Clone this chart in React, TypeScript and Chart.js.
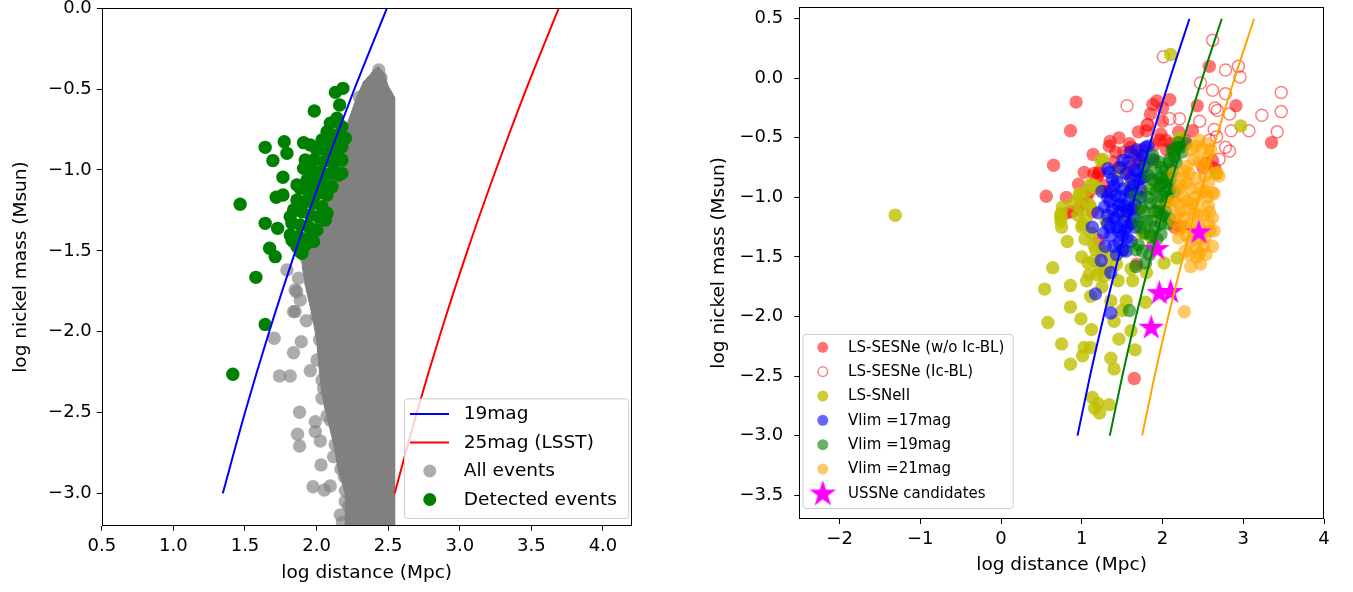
import React, { useEffect, useRef } from "react";
import { Chart, registerables } from "chart.js";

Chart.register(...registerables);

const FONT = '"DejaVu Sans", "Liberation Sans", sans-serif';
const TICK_SIZE = 18;
const TITLE_SIZE = 18.5;

type P = [number, number];

// ---------------- Left panel data ----------------
const L_X_TICKS = [0.5, 1.0, 1.5, 2.0, 2.5, 3.0, 3.5, 4.0];
const L_Y_TICKS = [0.0, -0.5, -1.0, -1.5, -2.0, -2.5, -3.0];

const L_LIMIT_19: P[] = [[1.345, -3.0], [1.5, -2.5], [1.669, -2.0], [1.853, -1.5], [2.052, -1.0], [2.264, -0.5], [2.491, 0.0]];
const L_LIMIT_25: P[] = [[2.545, -3.0], [2.7, -2.5], [2.869, -2.0], [3.053, -1.5], [3.252, -1.0], [3.464, -0.5], [3.691, 0.0]];

// outline of the saturated (fully overlapping) part of the "All events" cloud
const L_ALL_DENSE: P[] = [
  [2.38, -0.4], [2.43, -0.36], [2.47, -0.4], [2.5, -0.48], [2.545, -0.55], [2.545, -3.2], [2.2, -3.2],
  [2.2, -3.0], [2.15, -2.85], [2.12, -2.7], [2.08, -2.55], [2.04, -2.4], [2.02, -2.25], [2.0, -2.05],
  [1.97, -1.9], [1.93, -1.75], [1.9, -1.6], [1.9, -1.5], [2.0, -1.3], [2.08, -1.1], [2.15, -0.9],
  [2.22, -0.7], [2.28, -0.55], [2.33, -0.45],
];

const L_ALL_EVENTS: P[] = [
  [1.861, -1.753], [1.839, -1.876], [1.928, -1.932], [1.704, -2.041], [1.893, -2.062], [1.839, -2.13],
  [1.741, -2.274], [1.816, -2.274], [1.956, -2.241], [2.003, -2.175], [2.038, -2.412], [1.881, -2.498],
  [1.991, -2.557], [2.073, -2.521], [1.991, -2.618], [1.867, -2.634], [2.026, -2.676], [1.881, -2.707],
  [2.031, -2.824], [1.975, -2.959], [2.054, -2.979], [2.096, -2.954], [2.194, -2.898], [2.201, -2.983],
  [2.224, -3.082], [2.166, -3.133], [2.119, -2.773], [2.096, -2.46], [2.038, -2.299],
  [1.793, -1.618], [1.874, -1.67], [1.85, -1.742], [1.886, -1.804], [1.85, -1.876],
  [2.434, -0.382], [2.387, -0.454], [2.45, -0.43], [2.49, -0.547], [2.36, -0.5], [2.3, -0.55],
  [1.93, -1.55], [1.96, -1.7], [2.0, -1.9], [2.02, -2.05], [2.05, -2.35], [2.1, -2.55],
  [2.13, -2.7], [2.17, -2.85], [2.2, -3.05], [2.18, -3.18],
];

const L_DETECTED: P[] = [
  [2.184, -0.495], [2.131, -0.52], [2.161, -0.598], [1.984, -0.635], [1.641, -0.86], [1.774, -0.825],
  [1.793, -0.897], [1.695, -0.942], [1.765, -1.045], [1.466, -1.212], [1.718, -1.169], [1.765, -1.155],
  [1.641, -1.33], [1.728, -1.361], [1.672, -1.484], [1.711, -1.536], [1.576, -1.664], [1.909, -0.831],
  [1.863, -1.093], [2.177, -1.021], [2.073, -1.268], [1.816, -1.289], [1.828, -1.433], [1.886, -1.505],
  [1.641, -1.955], [1.415, -2.263],
  [2.142, -0.68], [2.096, -0.711], [2.177, -0.732], [2.073, -0.763], [2.142, -0.784], [2.201, -0.804],
  [2.038, -0.814], [2.108, -0.835], [2.177, -0.856], [1.956, -0.845], [2.003, -0.876], [2.073, -0.887],
  [2.142, -0.907], [1.921, -0.938], [1.979, -0.938], [2.049, -0.948], [2.119, -0.959], [2.177, -0.938],
  [1.909, -0.99], [1.968, -1.0], [2.026, -1.01], [2.096, -1.021], [2.154, -1.031], [1.933, -1.062],
  [1.991, -1.072], [2.049, -1.082], [2.108, -1.103], [1.886, -1.113], [1.944, -1.134], [2.014, -1.144],
  [2.073, -1.155], [1.863, -1.186], [1.921, -1.196], [1.979, -1.206], [2.038, -1.227], [1.839, -1.247],
  [1.898, -1.258], [1.956, -1.278], [2.014, -1.289], [2.061, -1.309], [1.828, -1.33], [1.886, -1.34],
  [1.944, -1.35], [2.003, -1.371], [1.816, -1.402], [1.874, -1.412], [1.933, -1.423], [1.863, -1.474],
  [1.921, -1.464], [1.979, -1.443], [1.839, -1.443], [1.898, -1.515],
];

// ---------------- Right panel data ----------------
const R_X_TICKS = [-2, -1, 0, 1, 2, 3, 4];
const R_Y_TICKS = [0.5, 0.0, -0.5, -1.0, -1.5, -2.0, -2.5, -3.0, -3.5];

const R_LIMIT_17: P[] = [[0.947, -3.0], [1.102, -2.5], [1.271, -2.0], [1.455, -1.5], [1.654, -1.0], [1.866, -0.5], [2.093, 0.0], [2.334, 0.5]];
const R_LIMIT_19: P[] = [[1.347, -3.0], [1.502, -2.5], [1.671, -2.0], [1.855, -1.5], [2.054, -1.0], [2.266, -0.5], [2.493, 0.0], [2.734, 0.5]];
const R_LIMIT_21: P[] = [[1.747, -3.0], [1.902, -2.5], [2.071, -2.0], [2.255, -1.5], [2.454, -1.0], [2.666, -0.5], [2.893, 0.0], [3.134, 0.5]];

const R_SESNE: P[] = [
  [0.93, -0.2], [0.86, -0.44], [0.65, -0.73], [0.56, -0.99], [0.81, -1.0], [0.96, -0.89], [1.14, -0.64],
  [0.87, -1.12], [0.82, -1.13], [1.35, -0.53], [1.46, -0.5], [1.59, -0.55], [1.66, -0.65], [1.61, -0.74],
  [1.8, -0.44], [1.88, -0.22], [1.93, -0.19], [2.09, -0.18], [1.98, -0.47], [1.82, -0.39], [2.43, -0.23],
  [2.58, 0.1], [2.91, -0.23], [3.35, -0.54], [2.28, -0.52], [2.62, -0.69], [1.65, -2.52], [1.21, -0.8],
  [1.03, -0.79], [1.13, -1.12], [1.21, -1.36], [2.22, -1.24], [2.54, -0.71], [2.65, -0.76], [1.19, -0.83],
  [2.0, -0.36], [1.75, -0.6], [1.52, -0.62], [1.4, -0.7], [2.1, -0.55], [2.2, -0.45], [1.9, -0.56],
  [1.06, -1.0], [1.3, -0.95], [1.68, -1.56], [2.05, -0.6], [2.37, -0.44], [1.0, -1.05], [2.04, -0.52],
  [1.15, -0.8], [1.22, -0.78], [1.46, -0.75], [1.57, -0.8], [1.61, -0.58], [1.34, -0.57], [1.96, -0.52],
  [1.27, -0.9], [1.1, -0.95], [0.95, -1.1], [1.7, -0.45], [1.85, -0.3], [2.0, -0.25], [2.15, -1.25],
  [2.5, -0.75], [1.42, -0.62], [1.72, -0.7],
];

const R_SESNE_ICBL: P[] = [
  [1.56, -0.23], [2.01, 0.18], [2.62, 0.32], [2.78, 0.07], [2.94, 0.1], [3.47, -0.12], [3.47, -0.28],
  [3.42, -0.45], [3.23, -0.31], [3.07, -0.44], [2.09, -0.34], [2.21, -0.34], [1.81, -0.39], [2.47, -0.04],
  [2.62, -0.1], [2.46, -0.36], [2.65, -0.25], [2.68, -0.27], [2.83, -0.3], [2.85, -0.44], [2.78, -0.58],
  [2.83, -0.61], [2.67, -0.49], [2.64, -0.43], [2.7, -0.68], [2.96, 0.01], [2.78, -0.13], [2.58, -0.52],
];

const R_SNII: P[] = [
  [-1.31, -1.15], [2.1, 0.2], [2.97, -0.4], [0.54, -1.77], [0.64, -1.59], [0.58, -2.05], [0.75, -2.23],
  [0.86, -2.4], [1.03, -2.26], [1.01, -2.33], [1.11, -2.26], [0.86, -1.74], [0.86, -1.92], [0.99, -2.02],
  [1.12, -2.11], [0.82, -1.37], [1.04, -1.35], [0.74, -1.14], [0.74, -1.2], [0.75, -1.25], [0.97, -0.99],
  [1.11, -1.08], [1.13, -0.9], [1.24, -0.69], [1.17, -1.44], [1.19, -1.65], [1.09, -1.65], [1.15, -1.53],
  [1.28, -1.66], [1.11, -1.83], [1.36, -1.87], [1.4, -2.04], [1.55, -1.87], [1.63, -1.7], [1.79, -1.88],
  [1.61, -2.12], [1.46, -2.19], [1.36, -2.35], [1.4, -2.44], [1.66, -2.28], [1.13, -2.68], [1.22, -2.81],
  [1.34, -2.74], [1.16, -2.77], [1.2, -2.73], [1.8, -1.63], [2.02, -1.55], [2.18, -1.51], [1.85, -1.33],
  [1.93, -1.12], [2.04, -1.04], [2.06, -0.82], [2.21, -0.5], [1.93, -0.9], [2.67, -0.8], [1.43, -1.56],
  [1.0, -1.25], [1.3, -1.2], [1.12, -1.3], [1.61, -1.6], [0.9, -1.05], [1.05, -0.95], [1.25, -1.75],
  [1.5, -1.95], [1.75, -1.3], [1.9, -0.7],
  [1.26, -0.68], [1.11, -0.89], [1.19, -0.92], [0.97, -0.97], [0.76, -1.08], [0.99, -1.08], [1.09, -1.06],
  [0.74, -1.16], [1.01, -1.23], [0.95, -1.15], [1.05, -1.18], [1.0, -1.5], [1.08, -1.55], [1.25, -1.45],
  [1.22, -1.6], [1.06, -1.7], [1.3, -1.6], [1.15, -1.4], [1.35, -1.5], [1.45, -1.7], [1.5, -1.45],
  [1.7, -1.1], [1.55, -1.15], [1.6, -0.9], [1.75, -0.95], [1.45, -0.8],
];

const R_VLIM17: P[] = [
  [1.32, -0.76], [1.51, -0.69], [1.82, -0.57], [1.72, -0.68], [1.79, -0.58], [1.34, -0.79], [1.44, -0.87],
  [1.4, -0.9], [1.61, -0.84], [1.32, -1.0], [1.35, -1.03], [1.45, -1.07], [1.48, -1.06], [1.56, -1.12],
  [1.66, -1.06], [1.61, -0.94], [1.69, -0.78], [1.32, -1.15], [1.61, -1.22], [1.45, -1.28], [1.53, -1.28],
  [1.56, -1.34], [1.4, -1.41], [1.51, -1.44], [1.13, -1.25], [1.32, -1.22], [1.29, -1.41], [1.24, -1.53],
  [1.36, -1.63], [1.17, -1.81], [1.36, -1.97], [1.74, -0.84], [1.72, -0.93], [1.59, -0.96], [1.66, -0.77],
  [1.77, -0.74], [1.88, -0.68], [1.61, -1.37], [1.35, -1.25], [1.51, -0.93], [1.43, -1.18], [1.66, -1.25],
  [1.53, -1.07], [1.46, -1.38], [1.4, -1.17], [1.65, -1.17], [1.57, -1.11], [1.73, -1.0], [1.78, -0.83],
  [1.48, -0.99], [1.38, -1.1],
  [1.25, -0.95], [1.28, -1.08], [1.38, -0.85], [1.42, -0.98], [1.47, -1.12], [1.52, -1.2], [1.58, -1.02],
  [1.62, -1.1], [1.55, -0.8], [1.47, -0.75], [1.58, -0.7], [1.64, -0.9], [1.7, -0.85], [1.5, -1.32],
  [1.43, -1.48], [1.55, -1.45], [1.36, -1.32], [1.27, -1.3], [1.6, -0.62], [1.68, -0.6], [1.75, -0.65],
  [1.36, -0.95], [1.44, -1.25], [1.57, -1.24], [1.2, -1.13],
];

const R_VLIM19: P[] = [
  [2.2, -0.54], [2.14, -0.61], [2.09, -0.68], [2.04, -0.77], [1.88, -0.65], [1.96, -0.84], [1.85, -0.93],
  [1.98, -0.99], [2.09, -0.93], [1.9, -1.12], [2.04, -1.12], [1.77, -1.12], [1.72, -1.25], [1.85, -1.31],
  [1.98, -1.22], [1.88, -1.41], [1.67, -1.44], [1.79, -1.55], [1.67, -1.58], [1.59, -1.95], [1.74, -1.09],
  [2.22, -0.58], [2.29, -0.55], [2.17, -0.71], [2.01, -0.88], [1.66, -0.99], [1.8, -0.74], [1.98, -1.31],
  [2.09, -1.18], [1.82, -1.0], [1.94, -1.05], [2.0, -1.15], [1.93, -0.8], [2.12, -0.78], [1.86, -1.2],
  [1.7, -1.4], [2.24, -0.62], [1.95, -0.7], [2.03, -0.95], [1.91, -1.25], [2.08, -0.71], [2.04, -0.85],
  [2.15, -0.66], [2.1, -0.85], [1.97, -0.9], [2.06, -1.0], [1.92, -0.95], [1.85, -1.05], [1.96, -1.12],
  [2.07, -1.22], [1.8, -1.2], [1.93, -1.35], [1.78, -1.3], [1.75, -1.45], [1.84, -1.48], [2.18, -0.58],
  [2.12, -0.6], [1.99, -0.75], [2.15, -0.95], [1.7, -1.2], [1.88, -0.85], [1.82, -0.82],
];

const R_VLIM21: P[] = [
  [2.41, -0.57], [2.49, -0.6], [2.57, -0.65], [2.38, -0.68], [2.3, -0.74], [2.54, -0.74], [2.67, -0.8],
  [2.25, -0.84], [2.41, -0.84], [2.57, -0.87], [2.2, -0.93], [2.35, -0.93], [2.49, -0.96], [2.62, -0.96],
  [2.14, -1.03], [2.3, -1.03], [2.43, -1.06], [2.57, -1.07], [2.22, -1.12], [2.38, -1.14], [2.51, -1.15],
  [2.62, -1.17], [2.14, -1.2], [2.28, -1.25], [2.46, -1.25], [2.59, -1.28], [2.2, -1.34], [2.35, -1.37],
  [2.51, -1.41], [2.62, -1.41], [2.28, -1.45], [2.46, -1.47], [2.35, -1.58], [2.47, -1.56], [2.27, -1.96],
  [2.09, -1.06], [2.14, -0.8], [2.45, -0.52], [2.36, -0.6], [2.52, -0.82], [2.32, -1.1], [2.44, -1.15],
  [2.25, -1.0], [2.47, -1.35], [2.33, -1.48], [2.56, -1.0], [2.4, -1.0], [2.18, -1.15], [2.3, -0.88],
  [2.7, -0.82], [2.64, -0.97], [2.64, -1.28], [2.27, -0.78], [2.54, -1.48],
  [2.2, -1.05], [2.27, -1.18], [2.34, -1.22], [2.4, -1.3], [2.53, -1.33], [2.42, -1.42], [2.3, -1.32],
  [2.2, -1.27], [2.45, -0.7], [2.5, -0.72], [2.33, -0.8], [2.46, -0.92], [2.58, -1.12], [2.53, -0.95],
  [2.36, -1.05], [2.22, -0.9], [2.6, -0.6], [2.55, -0.55], [2.42, -1.5], [2.57, -1.22],
];

const R_USSNE: P[] = [[1.93, -1.43], [2.45, -1.29], [1.96, -1.8], [2.1, -1.79], [1.86, -2.09]];

// ---------------- helpers ----------------
const pts = (a: P[]) => a.map(([x, y]) => ({ x, y }));
const fmt = (v: number, d: number) => (v < 0 ? "\u2212" : "") + Math.abs(v).toFixed(d);

function makeStar(R: number, color: string): HTMLCanvasElement {
  const size = Math.ceil(R * 2 + 2);
  const c = document.createElement("canvas");
  c.width = size;
  c.height = size;
  const g = c.getContext("2d")!;
  g.fillStyle = color;
  g.beginPath();
  const cx = size / 2;
  const cy = size / 2 + R * 0.05;
  for (let i = 0; i < 10; i++) {
    const r = i % 2 === 0 ? R : R * 0.382;
    const a = -Math.PI / 2 + (i * Math.PI) / 5;
    const px = cx + r * Math.cos(a);
    const py = cy + r * Math.sin(a);
    if (i === 0) g.moveTo(px, py);
    else g.lineTo(px, py);
  }
  g.closePath();
  g.fill();
  return c;
}

function makeScale(o: {
  min: number; max: number; ticks: number[]; dec: number; title: string;
  horizontal: boolean; thickness: number; tickPadding: number; titlePad: number;
}) {
  return {
    type: "linear",
    position: o.horizontal ? "bottom" : "left",
    min: o.min,
    max: o.max,
    afterBuildTicks: (s: any) => {
      s.ticks = o.ticks.map((v) => ({ value: v }));
    },
    afterFit: (s: any) => {
      if (o.horizontal) {
        s.height = o.thickness;
        s.paddingLeft = 0;
        s.paddingRight = 0;
      } else {
        s.width = o.thickness;
        s.paddingTop = 0;
        s.paddingBottom = 0;
      }
    },
    ticks: {
      callback: (v: number) => fmt(v, o.dec),
      font: { family: FONT, size: TICK_SIZE },
      color: "#000",
      padding: o.tickPadding,
      autoSkip: false,
      maxRotation: 0,
      minRotation: 0,
    },
    grid: { display: true, drawOnChartArea: false, drawTicks: true, tickLength: 5, color: "#000", lineWidth: 1 },
    border: { display: false },
    title: {
      display: true,
      text: o.title,
      color: "#000",
      font: { family: FONT, size: TITLE_SIZE },
      padding: o.horizontal ? { top: 0, bottom: o.titlePad } : { top: o.titlePad, bottom: 0 },
    },
  };
}

const framePlugin = {
  id: "frame",
  afterDatasetsDraw(chart: any) {
    const { ctx, chartArea: a } = chart;
    ctx.save();
    ctx.strokeStyle = "#000";
    ctx.lineWidth = 1;
    const l = Math.round(a.left) + 0.5;
    const t = Math.round(a.top) + 0.5;
    const r = Math.round(a.right) - 0.5;
    const b = Math.round(a.bottom) - 0.5;
    ctx.strokeRect(l, t, r - l, b - t);
    ctx.restore();
  },
};

const boxLegendPlugin = {
  id: "boxLegend",
  afterDraw(chart: any, _args: any, opts: any) {
    if (!opts || !opts.box) return;
    const { ctx } = chart;
    const items = chart.data.datasets
      .filter((d: any) => d.label)
      .sort((a: any, b: any) => (a.legendRank ?? 0) - (b.legendRank ?? 0));
    const [x, y, w, h] = opts.box;
    ctx.save();
    const rr = 3;
    ctx.beginPath();
    ctx.moveTo(x + rr, y);
    ctx.lineTo(x + w - rr, y);
    ctx.quadraticCurveTo(x + w, y, x + w, y + rr);
    ctx.lineTo(x + w, y + h - rr);
    ctx.quadraticCurveTo(x + w, y + h, x + w - rr, y + h);
    ctx.lineTo(x + rr, y + h);
    ctx.quadraticCurveTo(x, y + h, x, y + h - rr);
    ctx.lineTo(x, y + rr);
    ctx.quadraticCurveTo(x, y, x + rr, y);
    ctx.closePath();
    ctx.fillStyle = "rgba(255,255,255,0.8)";
    ctx.fill();
    ctx.strokeStyle = "#cccccc";
    ctx.lineWidth = 1;
    ctx.stroke();

    ctx.font = `${opts.fontSize}px ${FONT}`;
    ctx.textBaseline = "middle";
    ctx.textAlign = "left";
    items.forEach((d: any, i: number) => {
      const cy = opts.rowY0 + i * opts.rowGap;
      if (d.showLine) {
        ctx.beginPath();
        ctx.moveTo(opts.lineX0, cy);
        ctx.lineTo(opts.lineX1, cy);
        ctx.strokeStyle = d.borderColor;
        ctx.lineWidth = d.borderWidth;
        ctx.stroke();
      } else if (d.legendImage) {
        const im = d.legendImage as HTMLCanvasElement;
        ctx.drawImage(im, opts.markerX - im.width / 2, cy - im.height / 2);
      } else {
        ctx.beginPath();
        ctx.arc(opts.markerX, cy, d.legendStroke ? opts.markerR - 0.7 : opts.markerR, 0, Math.PI * 2);
        if (d.legendStroke) {
          ctx.strokeStyle = d.borderColor;
          ctx.lineWidth = d.borderWidth;
          ctx.stroke();
        } else {
          ctx.fillStyle = d.backgroundColor;
          ctx.fill();
        }
      }
      ctx.fillStyle = "#000";
      ctx.fillText(d.label, opts.textX, cy + 0.5);
    });
    ctx.restore();
  },
};

function lineSet(data: P[], color: string, extra: any = {}) {
  return {
    data: pts(data),
    showLine: true,
    borderColor: color,
    backgroundColor: color,
    borderWidth: 2,
    pointRadius: 0,
    fill: false,
    cubicInterpolationMode: "monotone",
    order: 0,
    ...extra,
  };
}

function dotSet(label: string, data: P[], color: string, r: number, order: number, rank: number, extra: any = {}) {
  return {
    label,
    data: pts(data),
    showLine: false,
    backgroundColor: color,
    borderColor: color,
    borderWidth: 0,
    pointRadius: r,
    pointHoverRadius: r,
    order,
    legendRank: rank,
    ...extra,
  };
}

function leftConfig(): any {
  return {
    type: "scatter",
    data: {
      datasets: [
        lineSet(L_LIMIT_19, "#0000ff", { label: "19mag", legendRank: 0 }),
        lineSet(L_LIMIT_25, "#ff0000", { label: "25mag (LSST)", legendRank: 1 }),
        dotSet("Detected events", L_DETECTED, "#008000", 6.7, 1, 3),
        dotSet("All events", L_ALL_EVENTS, "rgba(128,128,128,0.65)", 6.7, 2, 2),
        {
          data: pts(L_ALL_DENSE),
          showLine: true,
          fill: "shape",
          backgroundColor: "#808080",
          borderColor: "#808080",
          borderWidth: 1,
          pointRadius: 0,
          tension: 0,
          order: 3,
        },
      ],
    },
    options: {
      animation: false,
      responsive: false,
      events: [],
      layout: { padding: { left: 0, right: 38.4, top: 8.3, bottom: 0 }, autoPadding: false },
      plugins: {
        legend: { display: false },
        tooltip: { enabled: false },
        boxLegend: {
          box: [404.5, 398.9, 224.2, 119.6],
          rowY0: 414,
          rowGap: 28.5,
          lineX0: 410,
          lineX1: 449,
          markerX: 429.8,
          markerR: 6.5,
          textX: 463.8,
          fontSize: 18.5,
        },
      },
      scales: {
        x: makeScale({ min: 0.5, max: 4.2, ticks: L_X_TICKS, dec: 1, title: "log distance (Mpc)", horizontal: true, thickness: 66.3, tickPadding: 5, titlePad: 8.2 }),
        y: makeScale({ min: -3.2, max: 0, ticks: L_Y_TICKS, dec: 1, title: "log nickel mass (Msun)", horizontal: false, thickness: 101.8, tickPadding: 5, titlePad: 10 }),
      },
    },
    plugins: [framePlugin, boxLegendPlugin],
  };
}

function rightConfig(star: HTMLCanvasElement, starLegend: HTMLCanvasElement): any {
  return {
    type: "scatter",
    data: {
      datasets: [
        lineSet(R_LIMIT_17, "#0000ff"),
        lineSet(R_LIMIT_19, "#008000"),
        lineSet(R_LIMIT_21, "#ffa500"),
        dotSet("USSNe candidates", R_USSNE, "#ff00ff", 13.5, 1, 6, { pointStyle: star, legendImage: starLegend }),
        dotSet("Vlim =21mag", R_VLIM21, "rgba(255,165,0,0.6)", 6.7, 2, 5),
        dotSet("Vlim =19mag", R_VLIM19, "rgba(0,128,0,0.6)", 6.7, 3, 4),
        dotSet("Vlim =17mag", R_VLIM17, "rgba(0,0,255,0.6)", 6.7, 4, 3),
        dotSet("LS-SNeII", R_SNII, "rgba(191,191,0,0.8)", 6.7, 5, 2),
        dotSet("LS-SESNe (Ic-BL)", R_SESNE_ICBL, "rgba(0,0,0,0)", 6.0, 6, 1, {
          borderColor: "rgba(255,0,0,0.5)",
          borderWidth: 1.5,
          legendStroke: true,
        }),
        dotSet("LS-SESNe (w/o Ic-BL)", R_SESNE, "rgba(255,0,0,0.55)", 6.7, 7, 0),
      ],
    },
    options: {
      animation: false,
      responsive: false,
      events: [],
      layout: { padding: { left: 0, right: 29, top: 6.8, bottom: 0 }, autoPadding: false },
      plugins: {
        legend: { display: false },
        tooltip: { enabled: false },
        boxLegend: {
          box: [133, 334.5, 210.2, 174],
          rowY0: 347.3,
          rowGap: 24.35,
          lineX0: 136,
          lineX1: 170,
          markerX: 152.8,
          markerR: 5.5,
          textX: 178.1,
          fontSize: 15,
        },
      },
      scales: {
        x: makeScale({ min: -2.5, max: 4, ticks: R_X_TICKS, dec: 0, title: "log distance (Mpc)", horizontal: true, thickness: 73, tickPadding: 5, titlePad: 16.2 }),
        y: makeScale({ min: -3.7, max: 0.6, ticks: R_Y_TICKS, dec: 1, title: "log nickel mass (Msun)", horizontal: false, thickness: 129.2, tickPadding: 11, titlePad: 37.8 }),
      },
    },
    plugins: [framePlugin, boxLegendPlugin],
  };
}

export default function App() {
  const leftRef = useRef<HTMLCanvasElement>(null);
  const rightRef = useRef<HTMLCanvasElement>(null);

  useEffect(() => {
    Chart.defaults.font.family = FONT;
    Chart.defaults.color = "#000";
    const star = makeStar(13.5, "#ff00ff");
    const starLegend = makeStar(14, "#ff00ff");
    const left = new Chart(leftRef.current!, leftConfig());
    const right = new Chart(rightRef.current!, rightConfig(star, starLegend));
    return () => {
      left.destroy();
      right.destroy();
    };
  }, []);

  return (
    <div style={{ position: "fixed", left: 0, top: 0, width: 1353, height: 592, background: "#fff" }}>
      <canvas
        ref={leftRef}
        width={670}
        height={592}
        style={{ position: "absolute", left: 0, top: 0, width: 670, height: 592 }}
      />
      <canvas
        ref={rightRef}
        width={683}
        height={592}
        style={{ position: "absolute", left: 670, top: 0, width: 683, height: 592 }}
      />
    </div>
  );
}
